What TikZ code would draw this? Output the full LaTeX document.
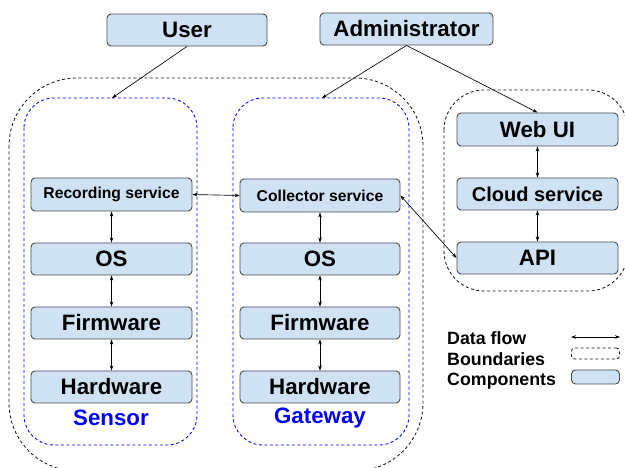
\documentclass[tikz,border=0pt]{standalone}
\usepackage{fontspec}
\setmainfont{Liberation Sans}
\usetikzlibrary{arrows.meta}
\definecolor{compfill}{HTML}{CFE2F3}
\definecolor{compdraw}{HTML}{4A4A4A}
\tikzset{
  comp/.style={draw=compdraw, fill=compfill, line width=0.9pt, rounded corners=4pt, inner sep=0pt, font=\bfseries},
  big/.style={font=\bfseries\fontsize{22.3}{24}\selectfont},
  svc/.style={font=\bfseries\fontsize{15.7}{17}\selectfont},
  leg/.style={font=\bfseries\fontsize{17.8}{19}\selectfont},
  bound/.style={draw=black!90, dash pattern=on 3pt off 2.5pt, line width=0.85pt},
  bbound/.style={draw=blue, dash pattern=on 3pt off 2.5pt, line width=0.85pt},
  flow/.style={line width=0.65pt, {Stealth[length=5pt,width=3.5pt]}-{Stealth[length=5pt,width=3.5pt]}},
  oneway/.style={line width=0.65pt, -{Stealth[length=5pt,width=3.5pt]}},
}
\begin{document}
\begin{tikzpicture}[x=1pt,y=-1pt]
\useasboundingbox (0,0) rectangle (625,468);
\clip (0,0) rectangle (625,468);
% boundaries
\draw[bound, rounded corners=68pt] (9,78) rectangle (423,471);
\draw[bound, rounded corners=40pt] (444,90) rectangle (628,291);
\draw[bbound, rounded corners=30pt] (24,98) rectangle (197,445);
\draw[bbound, rounded corners=30pt] (233,98) rectangle (409,445);
\coordinate (sensortop) at (112,98);
\coordinate (gatewaytop) at (322,98);
% actors
\node[comp, big, minimum width=160pt, minimum height=32pt] (user) at (187,30) {User};
\node[comp, big, minimum width=173pt, minimum height=32pt] (admin) at (406.5,29) {Administrator};
% sensor column
\node[comp, svc, minimum width=161pt, minimum height=33pt] (rec) at (111.5,194.5) {Recording service};
\node[comp, big, minimum width=161pt, minimum height=32pt] (os1) at (111.5,259) {OS};
\node[comp, big, minimum width=161pt, minimum height=32pt] (fw1) at (111.5,323) {Firmware};
\node[comp, big, minimum width=161pt, minimum height=32pt] (hw1) at (111.5,387) {Hardware};
\node[text=blue, big] (sensor) at (111,418) {Sensor};
% gateway column
\node[comp, svc, minimum width=160pt, minimum height=33pt] (col) at (320,195.5) {Collector service};
\node[comp, big, minimum width=160pt, minimum height=32pt] (os2) at (320,259) {OS};
\node[comp, big, minimum width=160pt, minimum height=32pt] (fw2) at (320,323) {Firmware};
\node[comp, big, minimum width=160pt, minimum height=32pt] (hw2) at (320,387) {Hardware};
\node[text=blue, big] (gateway) at (320,418) {Gateway};
% cloud column
\node[comp, big, minimum width=161pt, minimum height=33pt] (web) at (537.5,129.5) {Web UI};
\node[comp, font=\bfseries\fontsize{20}{22}\selectfont, minimum width=161pt, minimum height=32pt] (cloud) at (537.5,194) {Cloud service};
\node[comp, big, minimum width=161pt, minimum height=32pt] (api) at (537.5,258) {API};
% arrows
\draw[oneway] (user.south) -- (sensortop);
\draw[oneway] (admin.south) -- (gatewaytop);
\draw[oneway] (admin.south) -- (web.north);
\draw[flow] (rec.east) -- (col.west);
\draw[flow] (col.east) -- (api.west);
\draw[flow] (rec) -- (os1);
\draw[flow] (os1) -- (fw1);
\draw[flow] (fw1) -- (hw1);
\draw[flow] (col) -- (os2);
\draw[flow] (os2) -- (fw2);
\draw[flow] (fw2) -- (hw2);
\draw[flow] (web) -- (cloud);
\draw[flow] (cloud) -- (api);
% legend
\node[anchor=west, leg, inner sep=0pt] (lflow) at (447,338) {Data flow};
\node[anchor=west, leg, inner sep=0pt] (lbound) at (447,359.5) {Boundaries};
\node[anchor=west, leg, inner sep=0pt] (lcomp) at (447,381) {Components};
\coordinate (fa) at (571,337);
\coordinate (fb) at (620,337);
\draw[flow] (fa) -- (fb);
\node[bound, rounded corners=3pt, minimum width=48pt, minimum height=11pt, inner sep=0pt] (lbbox) at (595.5,353.5) {};
\node[comp, minimum width=48pt, minimum height=14pt] (lcbox) at (595.5,377) {};
\end{tikzpicture}
\end{document}
